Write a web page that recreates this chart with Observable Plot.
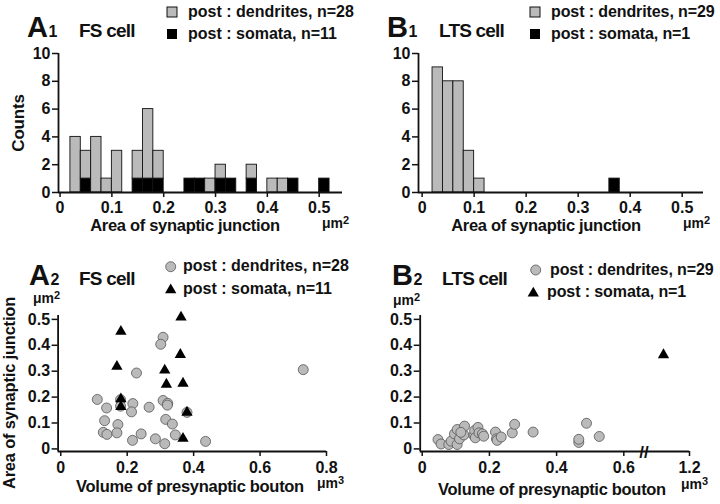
<!DOCTYPE html>
<html><head><meta charset="utf-8">
<script src="https://cdn.jsdelivr.net/npm/d3@7"></script>
<script src="https://cdn.jsdelivr.net/npm/@observablehq/plot@0.6"></script>
<style>
body{margin:0;background:#fff;}
#fig{position:relative;width:720px;height:504px;overflow:hidden;background:#fff;}
#fig svg{position:absolute;}
[aria-label$="axis tick"] path{stroke-width:1.5px;}
</style></head><body><div id="fig"></div>
<script>
// ---------- data ----------
const binWidth = 0.02;
// FS cell histogram (area of synaptic junction, µm²)
const fsBins       = [0.02,0.04,0.06,0.08,0.10,0.14,0.16,0.18,0.24,0.26,0.28,0.30,0.32,0.36,0.40,0.42,0.44,0.50];
const fsDendCounts = [4,   2,   4,   1,   3,   2,   5,   2,   0,   0,   1,   1,   0,   1,   1,   1,   0,   0];
const fsSomaCounts = [0,   1,   0,   0,   0,   1,   1,   1,   1,   1,   0,   1,   1,   1,   0,   0,   1,   1];
// LTS cell histogram
const ltsBins       = [0.02,0.04,0.06,0.08,0.10,0.36];
const ltsDendCounts = [9,   8,   8,   3,   1,   0];
const ltsSomaCounts = [0,   0,   0,   0,   0,   1];

// FS cell scatter: volume of bouton (µm³) vs area of junction (µm²)
const fsDendVol  = [0.110,0.138,0.132,0.128,0.139,0.172,0.169,0.217,0.213,0.228,0.216,0.242,0.266,0.285,0.308,0.301,0.308,0.322,0.321,0.316,0.336,0.313,0.345,0.380,0.436,0.730,0.180,0.180];
const fsDendArea = [0.191,0.158,0.109,0.064,0.056,0.094,0.062,0.175,0.143,0.293,0.033,0.058,0.161,0.039,0.431,0.404,0.187,0.176,0.169,0.114,0.096,0.020,0.054,0.141,0.029,0.306,0.190,0.165];
const fsSomaVol  = [0.362,0.181,0.360,0.169,0.313,0.318,0.368,0.181,0.181,0.380,0.368];
const fsSomaArea = [0.508,0.453,0.364,0.318,0.304,0.249,0.253,0.193,0.163,0.141,0.040];
// LTS cell scatter
const ltsDendVol  = [0.047,0.056,0.079,0.086,0.096,0.104,0.104,0.111,0.124,0.126,0.154,0.156,0.158,0.166,0.169,0.179,0.183,0.218,0.221,0.223,0.235,0.268,0.275,0.330,0.466,0.466,0.489,0.527,0.115];
const ltsDendArea = [0.036,0.019,0.017,0.030,0.058,0.075,0.017,0.039,0.054,0.088,0.052,0.071,0.043,0.083,0.062,0.058,0.049,0.065,0.039,0.033,0.046,0.062,0.095,0.065,0.025,0.037,0.099,0.048,0.064];
const ltsSomaVol  = [1.0];
const ltsSomaArea = [0.363];

const histTicksX = [0,0.1,0.2,0.3,0.4,0.5];
const histTicksY = [0,2,4,6,8,10];
const scatTicksY = [0,0.1,0.2,0.3,0.4,0.5];
const fsTicksX   = [0,0.2,0.4,0.6,0.8];
const ltsTicksX  = [0,0.2,0.4,0.6,1.2];
const ltsBreakAt = [0.66];

// broken x axis for the LTS scatter: 0.66–0.9 squeezed, 0.9–1.2 compressed
function brokeX(v) {
  if (v <= 0.66) return v;
  if (v <= 0.9) return 0.66 + (v - 0.66) * 0.08125;
  return 0.6795 + (v - 0.9) * 0.3867;
}

// ---------- style ----------
const FONT = '"Liberation Sans", Arial, Helvetica, sans-serif';
const GRAY = "#bababa";
const INK = "#111";

function histRows(bins, dend, soma) {
  const rows = [];
  bins.forEach((b, i) => {
    if (soma[i] > 0) rows.push({x1: b, x2: b + binWidth, y1: 0, y2: soma[i], kind: "soma"});
    if (dend[i] > 0) rows.push({x1: b, x2: b + binWidth, y1: soma[i], y2: soma[i] + dend[i], kind: "dend"});
  });
  return rows;
}
function pts(xs, ys) { return xs.map((x, i) => ({x, y: ys[i]})); }

const fig = document.getElementById("fig");
function place(svg, left, top) { svg.style.left = left + "px"; svg.style.top = top + "px"; fig.appendChild(svg); }

function histPlot(rows, xDomain, ml, mr) {
  return Plot.plot({
    width: 360, height: 235, marginLeft: ml, marginRight: mr, marginTop: 53, marginBottom: 43,
    style: {fontFamily: FONT, fontSize: "16px", fontWeight: "bold", color: INK, background: "transparent", overflow: "visible"},
    x: {domain: xDomain, ticks: histTicksX, tickFormat: d => String(d), tickSize: 5, tickPadding: 4, label: null},
    y: {domain: [0, 10], ticks: histTicksY, tickSize: 6, tickPadding: 2, label: null},
    marks: [
      Plot.rect(rows, {x1: "x1", x2: "x2", y1: "y1", y2: "y2", fill: d => d.kind === "soma" ? "#000" : GRAY, stroke: INK, strokeWidth: 0.9}),
      Plot.ruleX([xDomain[0]], {stroke: INK, strokeWidth: 1.8}),
      Plot.ruleY([0], {stroke: INK, strokeWidth: 1.8})
    ]
  });
}

const yScat = {domain: [-0.01, 0.515], ticks: scatTicksY, tickFormat: d => String(d), tickSize: 6, tickPadding: 2, label: null};

// A1
place(histPlot(histRows(fsBins, fsDendCounts, fsSomaCounts), [-0.003, 0.545], 58, 18), 0, 0);
// B1
place(histPlot(histRows(ltsBins, ltsDendCounts, ltsSomaCounts), [-0.007, 0.541], 58, 17), 360, 0);

// A2
place(Plot.plot({
  width: 360, height: 254, marginLeft: 57.6, marginRight: 34, marginTop: 65, marginBottom: 53,
  style: {fontFamily: FONT, fontSize: "16px", fontWeight: "bold", color: INK, background: "transparent", overflow: "visible"},
  x: {domain: [-0.008, 0.8], ticks: fsTicksX, tickFormat: d => String(d), tickSize: 5, tickPadding: 5, label: null},
  y: yScat,
  marks: [
    Plot.ruleX([-0.008], {stroke: INK, strokeWidth: 1.8}),
    Plot.ruleY([-0.01], {stroke: INK, strokeWidth: 1.8}),
    Plot.dot(pts(fsDendVol, fsDendArea), {x: "x", y: "y", r: 5, fill: GRAY, stroke: "#555", strokeWidth: 0.8}),
    Plot.dot(pts(fsSomaVol, fsSomaArea), {x: "x", y: "y", r: 4.2, symbol: "triangle", fill: "#000"})
  ]
}), 0, 250);

// B2 (broken x axis)
const ltsTickPos = ltsTicksX.map(brokeX);
place(Plot.plot({
  width: 360, height: 254, marginLeft: 59.7, marginRight: 31, marginTop: 65, marginBottom: 53,
  style: {fontFamily: FONT, fontSize: "16px", fontWeight: "bold", color: INK, background: "transparent", overflow: "visible"},
  x: {domain: [brokeX(-0.006), brokeX(1.2)], ticks: ltsTickPos,
      tickFormat: d => String(ltsTicksX[ltsTickPos.findIndex(t => Math.abs(t - d) < 1e-9)]),
      tickSize: 5, tickPadding: 5, label: null},
  y: yScat,
  marks: [
    Plot.ruleX([brokeX(-0.006)], {stroke: INK, strokeWidth: 1.8}),
    Plot.ruleY([-0.01], {stroke: INK, strokeWidth: 1.8}),
    Plot.text(ltsBreakAt, {x: d => brokeX(d), y: -0.01, text: () => "//", fontSize: 17, fontWeight: "bold", fill: INK, dy: 1}),
    Plot.dot(pts(ltsDendVol, ltsDendArea), {x: d => brokeX(d.x), y: "y", r: 5, fill: GRAY, stroke: "#555", strokeWidth: 0.8}),
    Plot.dot(pts(ltsSomaVol, ltsSomaArea), {x: d => brokeX(d.x), y: "y", r: 4.2, symbol: "triangle", fill: "#000"})
  ]
}), 360, 250);

// ---------- overlay text & legends ----------
const ov = d3.select(fig).append("svg").attr("width", 720).attr("height", 504)
  .style("left", "0px").style("top", "0px")
  .attr("font-family", FONT).attr("font-weight", "bold").attr("fill", INK);

function label(x, y, big, small, bigSize, smallSize) {
  const t = ov.append("text").attr("x", x).attr("y", y).attr("font-size", bigSize).attr("letter-spacing", "-0.5");
  t.append("tspan").text(big);
  t.append("tspan").attr("font-size", smallSize).attr("dx", 1).text(small);
}
function txt(x, y, s, size, anchor = "start", ls = "-0.3") {
  return ov.append("text").attr("x", x).attr("y", y).attr("font-size", size).attr("text-anchor", anchor).attr("letter-spacing", ls).text(s);
}
function unit(x, y, base, sup) {
  const t = ov.append("text").attr("x", x).attr("y", y).attr("font-size", 14);
  t.append("tspan").text(base);
  t.append("tspan").attr("font-size", 11).attr("dy", -4).text(sup);
}
function vtxt(x, y, s, size) {
  ov.append("text").attr("transform", `translate(${x},${y}) rotate(-90)`).attr("font-size", size).attr("text-anchor", "middle").attr("letter-spacing", "-0.2").text(s);
}
const triPath = d3.symbol(d3.symbolTriangle, 4.2 * 4.2 * Math.PI)();

// A1
label(27, 37, "A", "1", 29, 16);
txt(79, 37, "FS cell", 19, "start", "-0.8");
ov.append("rect").attr("x", 167).attr("y", 7).attr("width", 10).attr("height", 10).attr("fill", GRAY).attr("stroke", INK);
ov.append("rect").attr("x", 167).attr("y", 29).attr("width", 10).attr("height", 10).attr("fill", "#000");
txt(188, 17, "post : dendrites, n=28", 16, "start", "0");
txt(188, 39, "post : somata, n=11", 16, "start", "0");
vtxt(24, 123, "Counts", 17);
txt(185, 231, "Area of synaptic junction", 16.5, "middle");
unit(322, 228, "μm", "2");

// B1
label(387, 37, "B", "1", 29, 16);
txt(439, 37, "LTS cell", 19, "start", "-0.8");
ov.append("rect").attr("x", 530).attr("y", 7).attr("width", 10).attr("height", 10).attr("fill", GRAY).attr("stroke", INK);
ov.append("rect").attr("x", 530).attr("y", 29).attr("width", 10).attr("height", 10).attr("fill", "#000");
txt(551, 17, "post : dendrites, n=29", 16, "start", "-0.1");
txt(551, 39, "post : somata, n=1", 16, "start", "-0.1");
txt(546, 231, "Area of synaptic junction", 16.5, "middle");
unit(683, 228, "μm", "2");

// A2
label(29, 285, "A", "2", 29, 16);
txt(79, 285, "FS cell", 19, "start", "-0.8");
ov.append("circle").attr("cx", 170.7).attr("cy", 266.7).attr("r", 5).attr("fill", GRAY).attr("stroke", "#555").attr("stroke-width", 0.8);
ov.append("path").attr("d", triPath).attr("transform", "translate(170.7,290)").attr("fill", "#000");
txt(183, 271, "post : dendrites, n=28", 16, "start", "0");
txt(183, 294, "post : somata, n=11", 16, "start", "0");
unit(33, 303, "μm", "2");
vtxt(15, 393, "Area of synaptic junction", 16.5);
txt(190, 492, "Volume of presynaptic bouton", 16.5, "middle");
unit(317, 488, "μm", "3");

// B2
label(392, 285, "B", "2", 29, 16);
txt(442, 285, "LTS cell", 19, "start", "-0.8");
ov.append("circle").attr("cx", 535.7).attr("cy", 270).attr("r", 5).attr("fill", GRAY).attr("stroke", "#555").attr("stroke-width", 0.8);
ov.append("path").attr("d", triPath).attr("transform", "translate(533.3,293.3)").attr("fill", "#000");
txt(550, 275, "post : dendrites, n=29", 16, "start", "-0.1");
txt(547, 297, "post : somata, n=1", 16, "start", "-0.1");
unit(393, 305, "μm", "2");
txt(552, 495, "Volume of presynaptic bouton", 16.5, "middle");
unit(681, 489, "μm", "3");
</script></body></html>
